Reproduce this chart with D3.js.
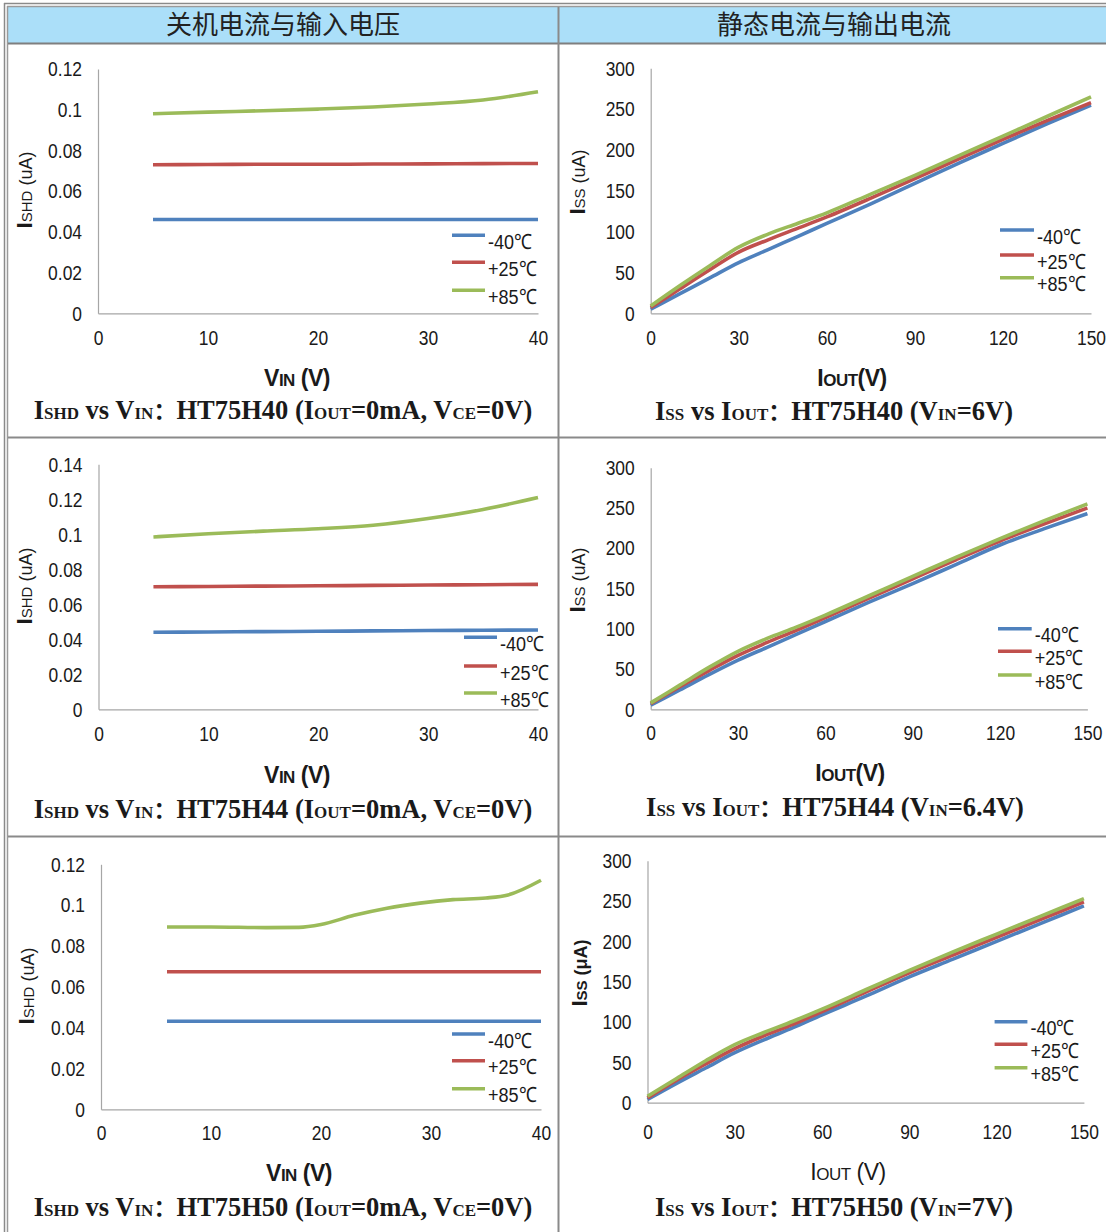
<!DOCTYPE html>
<html><head><meta charset="utf-8">
<script src="https://cdn.jsdelivr.net/npm/d3@7"></script>
<style>html,body{margin:0;padding:0;background:#fff;} svg{display:block;}</style>
</head><body>
<svg id="c" width="1106" height="1232"></svg>
<script>
// ---------------- DATA ----------------
const headerTitles = ["关机电流与输入电压", "静态电流与输出电流"];
const seriesNames = ["-40℃", "+25℃", "+85℃"];

// tick values
const vinTicks = [0, 10, 20, 30, 40];
const ioutTicks = [0, 30, 60, 90, 120, 150];
const shdTicks012 = [0, 0.02, 0.04, 0.06, 0.08, 0.1, 0.12];
const shdTicks014 = [0, 0.02, 0.04, 0.06, 0.08, 0.1, 0.12, 0.14];
const issTicks = [0, 50, 100, 150, 200, 250, 300];

// ISHD vs VIN : HT75H40
const vinH40 = [5, 10, 15, 20, 25, 30, 35, 40];
const shdH40m40 = [0.0461, 0.0461, 0.0461, 0.0461, 0.0461, 0.0461, 0.0461, 0.0461];
const shdH40p25 = [0.0730, 0.0731, 0.0732, 0.0732, 0.0733, 0.0734, 0.0735, 0.0736];
const shdH40p85 = [0.0980, 0.0988, 0.0995, 0.1003, 0.1013, 0.1028, 0.1048, 0.1088];

// ISHD vs VIN : HT75H44
const vinH44 = [5, 10, 15, 20, 25, 30, 35, 40];
const shdH44m40 = [0.0440, 0.0442, 0.0444, 0.0446, 0.0448, 0.0450, 0.0452, 0.0453];
const shdH44p25 = [0.0700, 0.0702, 0.0704, 0.0706, 0.0708, 0.0710, 0.0712, 0.0714];
const shdH44p85 = [0.0985, 0.1003, 0.1018, 0.1032, 0.1052, 0.1090, 0.1142, 0.1210];

// ISHD vs VIN : HT75H50
const vinH50 = [6, 10, 15, 18, 20, 23, 26, 29, 32, 35, 37, 40];
const shdH50m40 = [0.0431, 0.0431, 0.0431, 0.0431, 0.0431, 0.0431, 0.0431, 0.0431, 0.0431, 0.0431, 0.0431, 0.0431];
const shdH50p25 = [0.0674, 0.0674, 0.0674, 0.0674, 0.0674, 0.0674, 0.0674, 0.0674, 0.0674, 0.0674, 0.0674, 0.0674];
const shdH50p85 = [0.0893, 0.0893, 0.0890, 0.0891, 0.0905, 0.0950, 0.0985, 0.1010, 0.1027, 0.1035, 0.1050, 0.1122];

// ISS vs IOUT (x values common)
const ioutX = [0, 10, 20, 30, 40, 50, 60, 75, 90, 105, 120, 135, 150];
const issH40m40 = [5, 24, 43, 62, 78, 94, 110, 134, 159, 184, 208, 232, 255];
const issH40p25 = [7, 30, 53, 75, 90, 104, 118, 141, 165, 189, 213, 236, 258];
const issH40p85 = [9, 34, 58, 81, 97, 110, 123, 146, 169, 193, 217, 241, 265];

const issH44m40 = [5, 24, 43, 61, 77, 93, 109, 133, 156, 180, 204, 224, 243];
const issH44p25 = [7, 28, 48, 67, 83, 98, 114, 138, 162, 186, 209, 230, 250];
const issH44p85 = [8, 30, 52, 72, 88, 102, 117, 141, 165, 189, 212, 234, 255];

const issH50m40 = [4, 24, 43, 62, 78, 93, 109, 132, 156, 178, 200, 222, 244];
const issH50p25 = [6, 28, 48, 67, 83, 97, 113, 137, 161, 183, 205, 227, 249];
const issH50p85 = [8, 30, 52, 72, 87, 101, 116, 140, 164, 187, 209, 231, 253];

// captions: [text, isSmall]
const capH40L = [["I",0],["SHD",1],[" vs V",0],["IN",1],["：",0],["HT75H40 (I",0],["OUT",1],["=0mA, V",0],["CE",1],["=0V)",0]];
const capH44L = [["I",0],["SHD",1],[" vs V",0],["IN",1],["：",0],["HT75H44 (I",0],["OUT",1],["=0mA, V",0],["CE",1],["=0V)",0]];
const capH50L = [["I",0],["SHD",1],[" vs V",0],["IN",1],["：",0],["HT75H50 (I",0],["OUT",1],["=0mA, V",0],["CE",1],["=0V)",0]];
const capH40R = [["I",0],["SS",1],[" vs I",0],["OUT",1],["：",0],["HT75H40 (V",0],["IN",1],["=6V)",0]];
const capH44R = [["I",0],["SS",1],[" vs I",0],["OUT",1],["：",0],["HT75H44 (V",0],["IN",1],["=6.4V)",0]];
const capH50R = [["I",0],["SS",1],[" vs I",0],["OUT",1],["：",0],["HT75H50 (V",0],["IN",1],["=7V)",0]];

// ---------------- STYLE ----------------
const colors = ["#4F81BD", "#C0504D", "#9BBB59"];
const narrow = "'Liberation Sans Narrow','Arial Narrow','Liberation Sans',Arial,sans-serif";
const sans = "'Liberation Sans',Arial,sans-serif";
const serif = "'Liberation Serif','Times New Roman',serif";
const cjk = "'Noto Sans CJK SC','Noto Sans CJK TC',sans-serif";
const squeeze = 0.83;

const svg = d3.select("#c");

// ---------------- TABLE FRAME ----------------
svg.append("rect").attr("x", 8).attr("y", 7).attr("width", 1098).attr("height", 36).attr("fill", "#abdff9");
const frame = [
  [4, 3.5, 1106, 3.5, "#8a8a8a", 1.5], [4.5, 3, 4.5, 1232, "#8a8a8a", 1.5],
  [7, 6.5, 1106, 6.5, "#9a9a9a", 1.5], [7.5, 6, 7.5, 1232, "#9a9a9a", 1.5],
  [8, 43.5, 1106, 43.5, "#7f7f7f", 2],
  [558.5, 7, 558.5, 1232, "#8a8a8a", 2],
  [8, 437.5, 1106, 437.5, "#8a8a8a", 2],
  [8, 836.5, 1106, 836.5, "#8a8a8a", 2]
];
frame.forEach(f => svg.append("line").attr("x1", f[0]).attr("y1", f[1]).attr("x2", f[2]).attr("y2", f[3])
  .attr("stroke", f[4]).attr("stroke-width", f[5]));

[[283, headerTitles[0]], [834, headerTitles[1]]].forEach(h =>
  svg.append("text").attr("x", h[0]).attr("y", 34).attr("text-anchor", "middle")
    .attr("font-family", cjk).attr("font-size", 26).attr("fill", "#222").text(h[1]));

// ---------------- PANELS ----------------
const panels = [
  { xs: vinH40, ys: [shdH40m40, shdH40p25, shdH40p85], xDom: [0, 40], yDom: [0, 0.12], xTicks: vinTicks, yTicks: shdTicks012,
    x0: 98, x1: 538, y0: 313.3, y1: 69, xPad: 17, cap: capH40L, capX: 283, capY: 419,
    yt: ["SHD", " (uA)"], ytX: 32, ytY: 190, xt: ["V", "IN", " (V)"], xtX: 297, xtY: 386, xtBold: true,
    leg: [452, 485, [235.3, 262.3, 290.3]] },
  { xs: ioutX, ys: [issH40m40, issH40p25, issH40p85], xDom: [0, 150], yDom: [0, 300], xTicks: ioutTicks, yTicks: issTicks,
    x0: 650.7, x1: 1091, y0: 313.3, y1: 68.3, xPad: 17, cap: capH40R, capX: 834, capY: 420,
    yt: ["SS", " (uA)"], ytX: 585, ytY: 182, xt: ["I", "OUT", "(V)"], xtX: 852, xtY: 386, xtBold: true,
    leg: [1000, 1034, [230, 255, 277.7]] },
  { xs: vinH44, ys: [shdH44m40, shdH44p25, shdH44p85], xDom: [0, 40], yDom: [0, 0.14], xTicks: vinTicks, yTicks: shdTicks014,
    x0: 98.5, x1: 538, y0: 709.3, y1: 464.3, xPad: 17, cap: capH44L, capX: 283, capY: 818,
    yt: ["SHD", " (uA)"], ytX: 32, ytY: 586, xt: ["V", "IN", " (V)"], xtX: 297, xtY: 783, xtBold: true,
    leg: [464, 497, [637.3, 666, 693]] },
  { xs: ioutX, ys: [issH44m40, issH44p25, issH44p85], xDom: [0, 150], yDom: [0, 300], xTicks: ioutTicks, yTicks: issTicks,
    x0: 650.7, x1: 1087.4, y0: 709.3, y1: 467.7, xPad: 16, cap: capH44R, capX: 835, capY: 816,
    yt: ["SS", " (uA)"], ytX: 585, ytY: 580, xt: ["I", "OUT", "(V)"], xtX: 850, xtY: 781, xtBold: true,
    leg: [998, 1031.7, [628.7, 651.3, 675]] },
  { xs: vinH50, ys: [shdH50m40, shdH50p25, shdH50p85], xDom: [0, 40], yDom: [0, 0.12], xTicks: vinTicks, yTicks: shdTicks012,
    x0: 101, x1: 541, y0: 1109.3, y1: 864.3, xPad: 16, cap: capH50L, capX: 283, capY: 1216,
    yt: ["SHD", " (uA)"], ytX: 34, ytY: 986, xt: ["V", "IN", " (V)"], xtX: 299, xtY: 1181, xtBold: true,
    leg: [452, 485, [1034, 1060.7, 1088.7]] },
  { xs: ioutX, ys: [issH50m40, issH50p25, issH50p85], xDom: [0, 150], yDom: [0, 300], xTicks: ioutTicks, yTicks: issTicks,
    x0: 647.5, x1: 1083.9, y0: 1102.7, y1: 860.7, xPad: 21, cap: capH50R, capX: 834, capY: 1216,
    yt: ["SS", " (μA)"], ytX: 587, ytY: 973, xt: ["I", "OUT", " (V)"], xtX: 848, xtY: 1180, xtBold: false, ytBold: true,
    leg: [994.6, 1027.4, [1021.7, 1044.3, 1067.7]] }
];

panels.forEach(p => {
  const x = d3.scaleLinear().domain(p.xDom).range([p.x0, p.x1]);
  const y = d3.scaleLinear().domain(p.yDom).range([p.y0, p.y1]);
  const g = svg.append("g");

  const ax = g.append("g").attr("transform", `translate(0,${p.y0})`)
    .call(d3.axisBottom(x).tickValues(p.xTicks).tickSize(0).tickSizeOuter(0).tickPadding(p.xPad).tickFormat(d => String(d)));
  const ay = g.append("g").attr("transform", `translate(${p.x0},0)`)
    .call(d3.axisLeft(y).tickValues(p.yTicks).tickSize(0).tickSizeOuter(0).tickPadding(16).tickFormat(d => String(d)));
  [ax, ay].forEach(a => {
    a.select(".domain").attr("stroke", "#a6a6a6").attr("stroke-width", 1.2);
    a.selectAll("text").attr("font-family", narrow).attr("font-size", 21).attr("fill", "#1a1a1a")
      .attr("transform", `scale(${squeeze},1)`);
  });
  ay.selectAll("text").attr("x", -16 / squeeze);

  const line = d3.line().x(d => x(d[0])).y(d => y(d[1])).curve(d3.curveMonotoneX);
  p.ys.forEach((s, i) => {
    g.append("path").datum(p.xs.map((v, k) => [v, s[k]]))
      .attr("d", line).attr("fill", "none").attr("stroke", colors[i]).attr("stroke-width", 3.6)
      .attr("stroke-linejoin", "round");
  });

  // legend
  p.leg[2].forEach((ly, i) => {
    g.append("line").attr("x1", p.leg[0]).attr("x2", p.leg[1]).attr("y1", ly).attr("y2", ly)
      .attr("stroke", colors[i]).attr("stroke-width", 3.6);
    g.append("text").attr("transform", `translate(${p.leg[1] + 3},${ly + 13.5}) scale(0.86,1)`)
      .attr("font-family", narrow).attr("font-size", 21)
      .attr("fill", "#1a1a1a").text(seriesNames[i]);
  });

  // y title
  const yt = g.append("text").attr("transform", `translate(${p.ytX},${p.ytY}) rotate(-90)`)
    .attr("text-anchor", "middle").attr("font-family", sans).attr("fill", "#1a1a1a")
    .attr("font-weight", p.ytBold ? "bold" : "normal");
  yt.append("tspan").attr("font-size", 22).attr("font-weight", "bold").text("I");
  yt.append("tspan").attr("font-size", 15).text(p.yt[0]);
  yt.append("tspan").attr("font-size", 18).text(p.yt[1]);

  // x title
  const xt = g.append("text").attr("x", p.xtX).attr("y", p.xtY).attr("text-anchor", "middle")
    .attr("font-family", narrow).attr("fill", "#1a1a1a").attr("font-weight", p.xtBold ? "bold" : "normal")
    .attr("letter-spacing", -0.5);
  xt.append("tspan").attr("font-size", 23).text(p.xt[0]);
  xt.append("tspan").attr("font-size", 17).text(p.xt[1]);
  xt.append("tspan").attr("font-size", 23).text(p.xt[2]);

  // caption
  const ct = g.append("text").attr("x", p.capX).attr("y", p.capY).attr("text-anchor", "middle")
    .attr("font-family", serif).attr("font-weight", "bold").attr("fill", "#1a1a1a");
  p.cap.forEach(seg => {
    const t = ct.append("tspan").attr("font-size", seg[1] ? 17 : 26.5).text(seg[0]);
    if (seg[0] === "：") t.attr("font-family", cjk).attr("font-size", 23);
  });
});
</script>
</body></html>
